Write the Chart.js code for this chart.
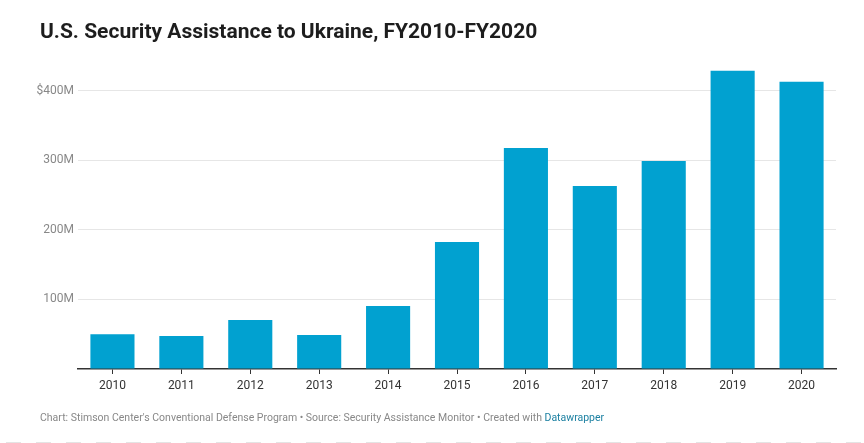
<!DOCTYPE html>
<html>
<head>
<meta charset="utf-8">
<script src="https://cdn.jsdelivr.net/npm/chart.js@4"></script>
<style>
  html, body { margin:0; padding:0; background:#fff; }
  body { width:864px; height:443px; position:relative; overflow:hidden; font-family:Roboto, sans-serif; }
  #wrap { position:absolute; left:0; top:0; width:864px; height:443px; }
  .title { position:absolute; left:40px; top:19px; font-size:21px; font-weight:700; color:#1d1d1d; }
  .footer { position:absolute; left:40px; top:411px; font-size:10.5px; color:#888; }
  .footer span { color:#1d81a2; }
  .dash { position:absolute; left:0; top:442px; width:864px; height:1px;
    background:repeating-linear-gradient(90deg, transparent 0 6px, #e4e4e4 6px 21px, transparent 21px 30px); }
</style>
</head>
<body>
<div id="wrap"><canvas id="chart"></canvas></div>
<div class="title">U.S. Security Assistance to Ukraine, FY2010-FY2020</div>
<div class="footer">Chart: Stimson Center's Conventional Defense Program • Source: Security Assistance Monitor • Created with <span>Datawrapper</span></div>
<div class="dash"></div>
<script>
  // Données (millions USD)
  const years = ['2010','2011','2012','2013','2014','2015','2016','2017','2018','2019','2020'];
  const assistance = [50, 47.5, 70.5, 49, 90.5, 182.5, 318, 263, 299, 429, 413];
  const yTicks = [0, 100, 200, 300, 400];

  new Chart(document.getElementById('chart').getContext('2d'), {
    type: 'bar',
    data: {
      labels: years,
      datasets: [{ data: assistance, backgroundColor: '#01a1d0', categoryPercentage: 1, barPercentage: 0.64 }]
    },
    options: {
      responsive: true,
      maintainAspectRatio: false,
      animation: false,
      layout: { padding: { top: 70, right: 28, bottom: 48, left: 0 } },
      plugins: { legend: { display: false }, tooltip: { enabled: false } },
      scales: {
        x: {
          grid: { display: true, drawOnChartArea: false, offset: false, tickLength: 5, tickColor: '#333' },
          border: { color: '#333', width: 1.5 },
          ticks: { color: '#333', font: { family: 'Roboto', size: 12 }, padding: 5 },
          afterFit: s => { s.height = 26; }
        },
        y: {
          min: 0, max: 430,
          afterBuildTicks: s => { s.ticks = yTicks.map(v => ({ value: v })); },
          afterFit: s => { s.width = 78; },
          grid: { color: ctx => ctx.tick && ctx.tick.value === 0 ? 'transparent' : '#e6e6e6', drawTicks: false },
          border: { display: false },
          ticks: {
            color: '#888', font: { family: 'Roboto', size: 12 }, padding: 4,
            callback: v => v === 0 ? '' : (v === 400 ? '$400M' : v + 'M')
          }
        }
      }
    }
  });
</script>
</body>
</html>
